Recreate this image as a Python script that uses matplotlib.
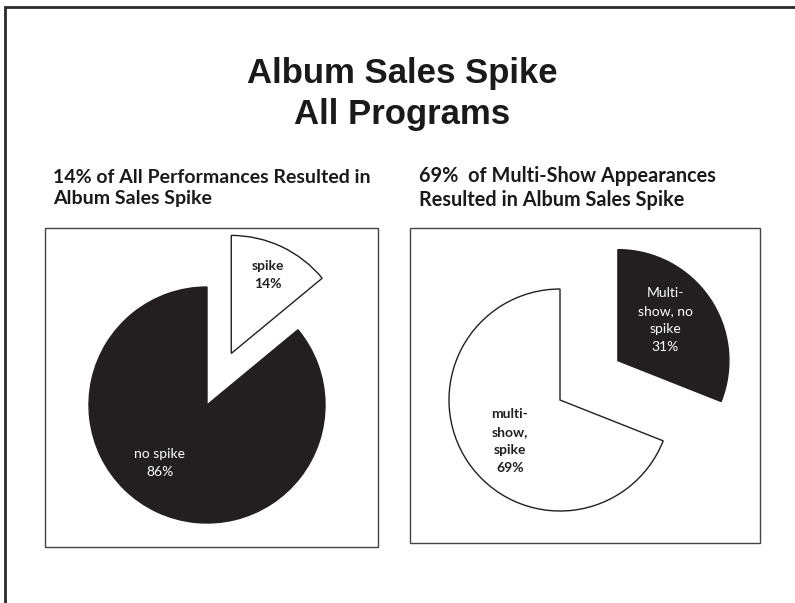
import matplotlib.pyplot as plt
from matplotlib.patches import Rectangle

W, H = 795, 603

# data
left_labels = ['spike', 'no spike']
left_values = [14, 86]
right_labels = ['Multi-show, no spike', 'multi-show, spike']
right_values = [31, 69]

title = 'Album Sales Spike\nAll Programs'
left_sub = '14% of All Performances Resulted in\nAlbum Sales Spike'
right_sub = '69%  of Multi-Show Appearances\nResulted in Album Sales Spike'

DARK = '#231f20'
SANS = ['Lato', 'DejaVu Sans']


def Y(y):
    # image row -> axes y (y up)
    return H - y


fig = plt.figure(figsize=(W / 100, H / 100), dpi=100)
ax = fig.add_axes([0, 0, 1, 1])

# outer frame (only top and left visible in the crop)
ax.plot([5, 5, W + 5], [Y(H + 5), Y(7), Y(7)], color='#2a2a2a', lw=2,
        solid_joinstyle='miter')

# title
ax.text(402, Y(94), title, ha='center', va='center', fontsize=25,
        fontweight='bold', family=['Liberation Sans', 'DejaVu Sans'],
        color='#1a1a1a', linespacing=1.27)

# subtitles
ax.text(53, Y(188), left_sub, ha='left', va='center', fontsize=14,
        fontweight='bold', family=SANS, color='#1a1a1a', linespacing=1.27)
ax.text(419, Y(188), right_sub, ha='left', va='center', fontsize=14.3,
        fontweight='bold', family=SANS, color='#1a1a1a', linespacing=1.25)

# chart boxes
for x0, y0, x1, y1 in [(45, 228, 378, 547), (410, 228, 760, 543)]:
    ax.add_patch(Rectangle((x0, Y(y1)), x1 - x0, y1 - y0, fill=False,
                           edgecolor='#444444', lw=1))

# left pie (explode is in data units here, i.e. pixels)
ax.pie(left_values, colors=['white', DARK], startangle=90, counterclock=False,
       explode=[57, 0], center=(207, Y(405)), radius=118, frame=True,
       wedgeprops=dict(edgecolor=DARK, linewidth=1))
ax.text(268, Y(275), 'spike\n14%', ha='center', va='center', fontsize=10,
        fontweight='bold', family=SANS, color=DARK, linespacing=1.6)
ax.text(160, Y(463), 'no spike\n86%', ha='center', va='center', fontsize=10,
        family=SANS, color='white', linespacing=1.6)

# right pie
ax.pie(right_values, colors=[DARK, 'white'], startangle=90, counterclock=False,
       explode=[70, 0], center=(560, Y(400)), radius=111, frame=True,
       wedgeprops=dict(edgecolor=DARK, linewidth=1))
ax.text(665, Y(320), 'Multi-\nshow, no\nspike\n31%', ha='center', va='center',
        fontsize=10, family=SANS, color='white', linespacing=1.6)
ax.text(510, Y(441), 'multi-\nshow,\nspike\n69%', ha='center', va='center',
        fontsize=10, fontweight='bold', family=SANS, color=DARK,
        linespacing=1.6)

ax.set_xlim(0, W)
ax.set_ylim(0, H)
ax.set_aspect('equal')
ax.axis('off')

fig.savefig('out.png', dpi=100)
